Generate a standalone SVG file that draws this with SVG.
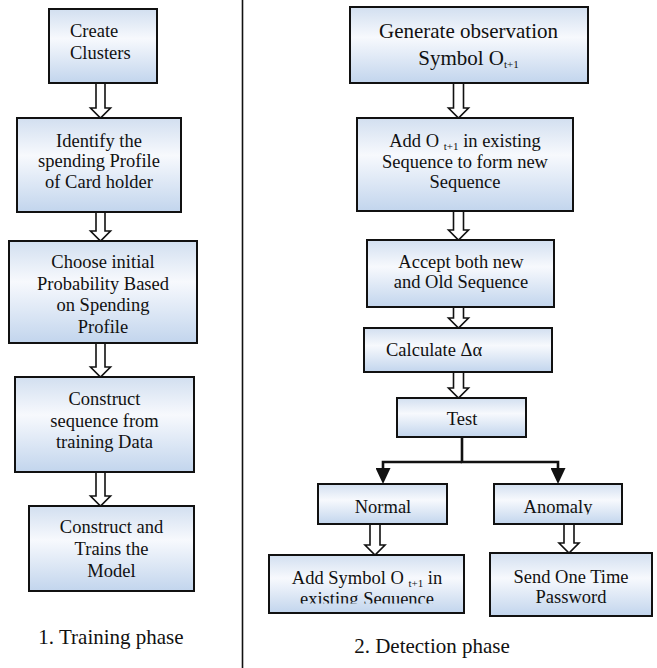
<svg xmlns="http://www.w3.org/2000/svg" width="657" height="668" viewBox="0 0 657 668">
<style>
.box{fill:url(#bg);stroke:#111;stroke-width:2}
.t{font-family:"Liberation Serif","Times New Roman",serif;font-size:18.5px;fill:#111;text-anchor:middle}
.big{font-size:21px}
.cap{font-family:"Liberation Serif","Times New Roman",serif;font-size:21px;fill:#111;text-anchor:middle}
.sub{font-size:11px}
.arr{fill:#fff;stroke:#111;stroke-width:1.6;stroke-linejoin:miter}
.br{fill:none;stroke:#111;stroke-width:2.6;stroke-linejoin:miter;marker-end:url(#ah)}
.div{stroke:#111;stroke-width:1.6}
</style>
<defs>
<linearGradient id="bg" x1="0" y1="0" x2="0" y2="1">
<stop offset="0" stop-color="#d2dff0"/>
<stop offset="0.4" stop-color="#f7f9fd"/>
<stop offset="1" stop-color="#c2d5ed"/>
</linearGradient>
<marker id="ah" markerUnits="userSpaceOnUse" markerWidth="16" markerHeight="15" refX="4" refY="7.5" orient="auto">
<path d="M0,0 L16,7.5 L0,15 Z" fill="#111"/>
</marker>
<clipPath id="c1"><rect x="9" y="241" width="188" height="92.5"/></clipPath>
<clipPath id="c2"><rect x="494" y="485" width="128" height="29.5"/></clipPath>
<clipPath id="c3"><rect x="269" y="555" width="195" height="48.5"/></clipPath>
</defs>
<line class="div" x1="242.5" y1="0" x2="242.5" y2="668"/>
<g id="connectors">
<path class="arr" d="M96,83 V108 H90.5 L100.5,118 L110.5,108 H105 V83"/>
<path class="arr" d="M96,212 V231 H90.5 L100.5,241 L110.5,231 H105 V212"/>
<path class="arr" d="M96,343 V367 H90.5 L100.5,377 L110.5,367 H105 V343"/>
<path class="arr" d="M96,472 V496 H90.5 L100.5,506 L110.5,496 H105 V472"/>
<path class="arr" d="M453.5,83 V108 H448.5 L458.5,118 L468.5,108 H463.5 V83"/>
<path class="arr" d="M453.5,211 V230 H448.5 L458.5,240 L468.5,230 H463.5 V211"/>
<path class="arr" d="M453.5,307 V318 H448.5 L458.5,328 L468.5,318 H463.5 V307"/>
<path class="arr" d="M453.5,372 V388 H448.5 L458.5,398 L468.5,388 H463.5 V372"/>
<path class="arr" d="M370,524 V545 H365 L375,555 L385,545 H380 V524"/>
<path class="arr" d="M564,524 V543 H559 L569,553 L579,543 H574 V524"/>
<path class="br" d="M462,462 H383 V472"/>
<path class="br" d="M462,437 V462 H558 V472"/>
</g>
<g id="create-clusters">
<rect class="box" x="49" y="9" width="108" height="74"/>
<text class="t" x="70" y="37" style="text-anchor:start">Create</text>
<text class="t" x="70" y="59" style="text-anchor:start">Clusters</text>
</g>
<g id="identify-profile">
<rect class="box" x="17" y="118" width="164" height="94"/>
<text class="t" x="99" y="146.5">Identify the</text>
<text class="t" x="99" y="167">spending Profile</text>
<text class="t" x="99" y="188">of Card holder</text>
</g>
<g id="choose-probability">
<rect class="box" x="9" y="241" width="188" height="102"/>
<text class="t" x="103" y="268">Choose initial</text>
<text class="t" x="103" y="290">Probability Based</text>
<text class="t" x="103" y="311">on Spending</text>
<text class="t" x="103" y="333" clip-path="url(#c1)">Profile</text>
</g>
<g id="construct-sequence">
<rect class="box" x="15" y="377" width="179" height="95"/>
<text class="t" x="104.5" y="405">Construct</text>
<text class="t" x="104.5" y="427">sequence from</text>
<text class="t" x="104.5" y="448">training Data</text>
</g>
<g id="construct-model">
<rect class="box" x="29" y="506" width="165" height="85"/>
<text class="t" x="111.5" y="533">Construct and</text>
<text class="t" x="111.5" y="555">Trains the</text>
<text class="t" x="111.5" y="577">Model</text>
</g>
<text class="cap" x="111" y="644">1. Training phase</text>
<g id="generate-observation">
<rect class="box" x="350" y="7" width="238" height="76"/>
<text class="t big" x="468.5" y="38">Generate observation</text>
<text class="t big" x="468.5" y="65">Symbol O<tspan class="sub" dy="3">t+1</tspan></text>
</g>
<g id="add-observation">
<rect class="box" x="357" y="118" width="216" height="93"/>
<text class="t" x="465" y="147">Add O <tspan class="sub" dy="3">t+1</tspan><tspan dy="-3">  in existing</tspan></text>
<text class="t" x="465" y="168">Sequence to form new</text>
<text class="t" x="465" y="188">Sequence</text>
</g>
<g id="accept-sequences">
<rect class="box" x="367" y="240" width="187" height="67"/>
<text class="t" x="461" y="268">Accept both new</text>
<text class="t" x="461" y="288">and Old Sequence</text>
</g>
<g id="calculate">
<rect class="box" x="364" y="328" width="188" height="44"/>
<text class="t" x="386" y="356" style="text-anchor:start">Calculate Δα</text>
</g>
<g id="test">
<rect class="box" x="397" y="398" width="129" height="39"/>
<text class="t" x="462" y="425">Test</text>
</g>
<g id="normal">
<rect class="box" x="318" y="484" width="129" height="40"/>
<text class="t" x="383" y="513">Normal</text>
</g>
<g id="anomaly">
<rect class="box" x="494" y="484" width="128" height="40"/>
<text class="t" x="558" y="513" clip-path="url(#c2)">Anomaly</text>
</g>
<g id="add-symbol">
<rect class="box" x="269" y="555" width="195" height="58"/>
<text class="t" x="367" y="584">Add Symbol O <tspan class="sub" dy="3">t+1</tspan><tspan dy="-3">  in</tspan></text>
<text class="t" x="367" y="605" clip-path="url(#c3)">existing Sequence</text>
</g>
<g id="send-otp">
<rect class="box" x="490" y="553" width="162" height="63"/>
<text class="t" x="571" y="583">Send One Time</text>
<text class="t" x="571" y="603">Password</text>
</g>
<text class="cap" x="432" y="653">2. Detection phase</text>
</svg>
